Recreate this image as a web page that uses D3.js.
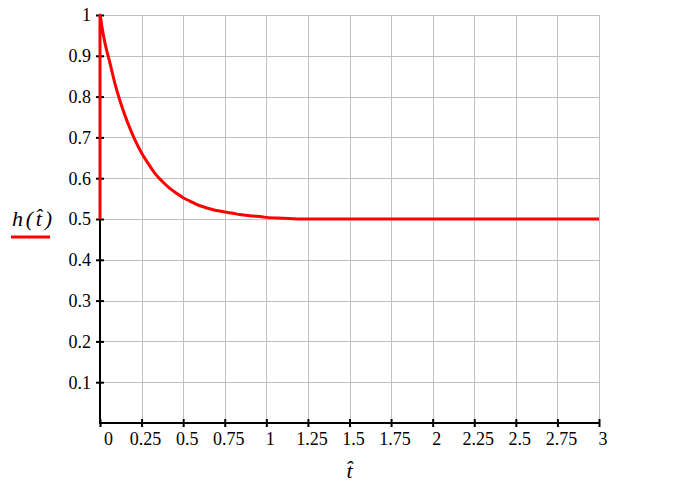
<!DOCTYPE html>
<html>
<head>
<meta charset="utf-8">
<script src="https://cdn.jsdelivr.net/npm/d3@7"></script>
<style>
  html, body { margin: 0; padding: 0; background: #fff; }
  svg { display: block; }
</style>
</head>
<body>
<svg id="chart" width="697" height="490"></svg>
<script>
// Values
const tValues = [0, 0, 0.01, 0.03, 0.06, 0.09, 0.12, 0.15, 0.18, 0.21, 0.25, 0.29, 0.33, 0.375, 0.42, 0.46, 0.5, 0.54, 0.58, 0.62, 0.67, 0.71, 0.75, 0.8, 0.84, 0.9, 0.98, 1.0, 1.1, 1.22, 3.0];
const hValues = [0.5, 1.0, 0.975, 0.931, 0.882, 0.832, 0.790, 0.754, 0.722, 0.694, 0.662, 0.636, 0.612, 0.592, 0.575, 0.563, 0.552, 0.544, 0.536, 0.530, 0.524, 0.520, 0.517, 0.514, 0.511, 0.508, 0.505, 0.504, 0.502, 0.5, 0.5];
const xTicks = [0, 0.25, 0.5, 0.75, 1, 1.25, 1.5, 1.75, 2, 2.25, 2.5, 2.75, 3];
const xTickLabels = ["0", "0.25", "0.5", "0.75", "1", "1.25", "1.5", "1.75", "2", "2.25", "2.5", "2.75", "3"];
const yTicks = [0.1, 0.2, 0.3, 0.4, 0.5, 0.6, 0.7, 0.8, 0.9, 1];
const yTickLabels = ["0.1", "0.2", "0.3", "0.4", "0.5", "0.6", "0.7", "0.8", "0.9", "1"];
const legendLabel = "h(t\u0302)";
const xTitle = "t\u0302";

const svg = d3.select("#chart");
const x = d3.scaleLinear().domain([0, 3]).range([100, 599]);
const y = d3.scaleLinear().domain([0, 1]).range([423, 15]);
const serif = "'Liberation Serif', 'Times New Roman', serif";

// grid
const grid = svg.append("g").attr("stroke", "#c0c0c0").attr("stroke-width", 1).attr("shape-rendering", "crispEdges");
grid.selectAll("line.v").data(xTicks.filter(d => d > 0)).join("line")
  .attr("x1", d => x(d) + 0.5).attr("x2", d => x(d) + 0.5)
  .attr("y1", y(1)).attr("y2", y(0));
grid.selectAll("line.h").data(yTicks).join("line")
  .attr("y1", d => Math.round(y(d)) + 0.5).attr("y2", d => Math.round(y(d)) + 0.5)
  .attr("x1", x(0)).attr("x2", x(3) + 1);

// x axis
const xAxis = svg.append("g").attr("transform", `translate(0,${y(0)})`)
  .call(d3.axisBottom(x).tickValues(xTicks).tickSize(4).tickSizeOuter(0)
    .tickFormat((d, i) => xTickLabels[i]));
xAxis.select(".domain").attr("stroke", "#000").attr("stroke-width", 2).attr("d", `M${x(0) - 1},0H${x(3) + 1}`);
xAxis.selectAll(".tick line").attr("stroke", "#000").attr("stroke-width", 2).attr("y1", -4).attr("y2", 4);
xAxis.selectAll(".tick text")
  .attr("font-family", serif).attr("font-size", 18).attr("fill", "#000")
  .attr("y", 22).attr("dy", 0)
  .attr("x", (d, i) => i === 0 ? 8 : 3.5);

// y axis
const yAxis = svg.append("g").attr("transform", `translate(${x(0)},0)`)
  .call(d3.axisLeft(y).tickValues(yTicks).tickSize(4).tickSizeOuter(0)
    .tickFormat((d, i) => yTickLabels[i]));
yAxis.select(".domain").attr("stroke", "#000").attr("stroke-width", 2).attr("d", `M0,${y(0) + 1}V${y(1) - 1}`);
yAxis.selectAll(".tick line").attr("stroke", "#000").attr("stroke-width", 2).attr("x1", -4).attr("x2", 4);
yAxis.selectAll(".tick text")
  .attr("font-family", serif).attr("font-size", 18).attr("fill", "#000")
  .attr("x", -9).attr("dy", "0.33em");

// curve
const pts = tValues.map((t, i) => [t, hValues[i]]);
svg.append("path").datum(pts)
  .attr("fill", "none").attr("stroke", "#ff0000").attr("stroke-width", 3)
  .attr("stroke-linejoin", "round")
  .attr("d", d3.line().x(d => x(d[0])).y(d => y(d[1])).curve(d3.curveMonotoneX));

// legend
svg.append("text").attr("x", 12).attr("y", 226)
  .attr("font-family", serif).attr("font-style", "italic").attr("font-size", 22)
  .attr("textLength", 40).attr("lengthAdjust", "spacing")
  .attr("fill", "#000").text(legendLabel);
svg.append("line").attr("x1", 11).attr("x2", 50).attr("y1", 237).attr("y2", 237)
  .attr("stroke", "#ff0000").attr("stroke-width", 3);

// x title
svg.append("text").attr("x", x(1.5)).attr("y", 478).attr("text-anchor", "middle")
  .attr("font-family", serif).attr("font-style", "italic").attr("font-size", 22)
  .attr("fill", "#000").text(xTitle);
</script>
</body>
</html>
